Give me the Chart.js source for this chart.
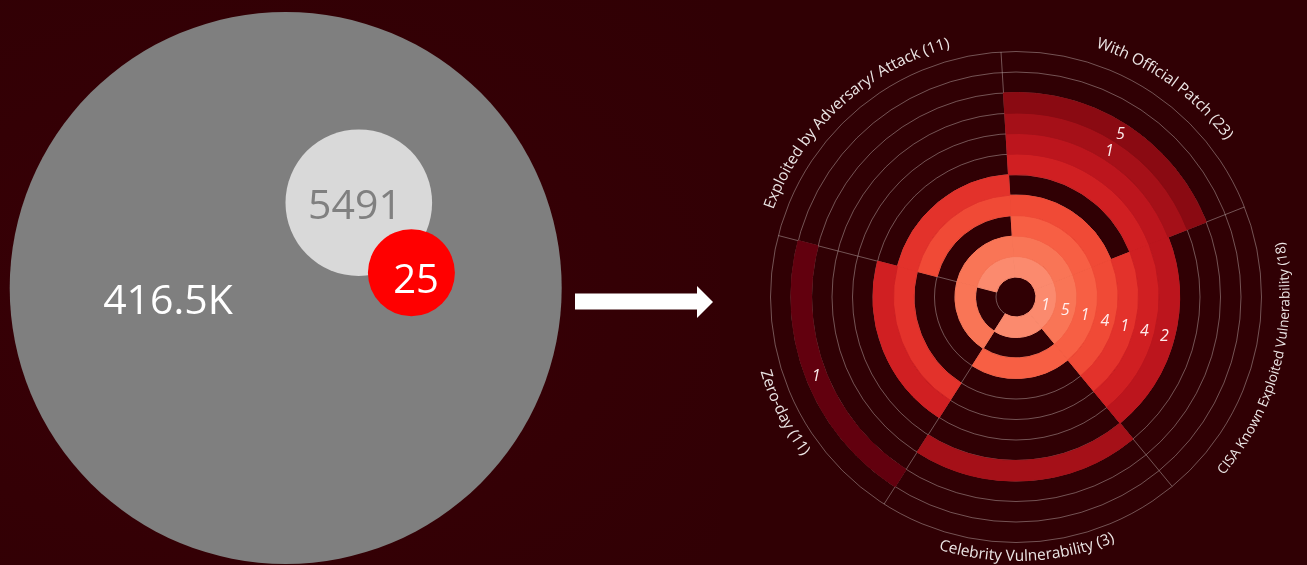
<!DOCTYPE html>
<html>
<head>
<meta charset="utf-8">
<script src="https://cdn.jsdelivr.net/npm/chart.js@4.4.1/dist/chart.umd.min.js"></script>
<style>
  html, body { margin: 0; padding: 0; width: 1307px; height: 565px; overflow: hidden; background: #300004; }
  #bgLeft { position: absolute; left: 0; top: 0; width: 720px; height: 565px;
            background: radial-gradient(ellipse at 35% 55%, #3a0007 0%, #340005 55%, #300004 100%); }
  #left { position: absolute; left: 0; top: 0; }
  #arrow { position: absolute; left: 0; top: 0; }
  #radial { position: absolute; left: 716px; top: 0; }
</style>
</head>
<body>
<div id="bgLeft"></div>
<canvas id="left" width="600" height="565"></canvas>
<svg id="arrow" width="760" height="565">
  <polygon points="575,293.5 697,293.5 697,286 713,302 697,318 697,309.5 575,309.5" fill="#ffffff"/>
</svg>
<canvas id="radial" width="600" height="594"></canvas>
<script>
// ---------------- DATA ----------------
// Left: nested counts
const countLabels = ['416.5K', '5491', '25'];
const countValues = [416500, 5491, 25];

// Right: radial chart, 5 categories, 11 rings (inner -> outer)
const categories = [
  'With Official Patch',
  'CISA Known Exploited Vulnerability',
  'Celebrity Vulnerability',
  'Zero-day',
  'Exploited by Adversary/ Attack'
];
const rings = ['1', '2', '3', '4', '5', '6', '7', '8', '9', '10', '11'];
const withOfficialPatch      = [4, 3, 3, 3, 0, 2, 2, 1, 5, 0, 0];
const cisaKnownExploited     = [1, 5, 1, 4, 1, 4, 2, 0, 0, 0, 0];
const celebrityVulnerability = [1, 0, 1, 0, 0, 0, 0, 1, 0, 0, 0];
const zeroDay                = [0, 4, 0, 0, 3, 3, 0, 0, 0, 1, 0];
const exploitedByAdversary   = [3, 3, 0, 3, 2, 0, 0, 0, 0, 0, 0];
// rings (1-based) whose value label is printed, per category
const patchLabelRings     = [8, 9];
const cisaLabelRings      = [1, 2, 3, 4, 5, 6, 7];
const celebrityLabelRings = [];
const zeroDayLabelRings   = [10];
const exploitedLabelRings = [];

// ---------------- STYLE ----------------
const seriesByCategory = [withOfficialPatch, cisaKnownExploited, celebrityVulnerability, zeroDay, exploitedByAdversary];
const labelRingsByCategory = [patchLabelRings, cisaLabelRings, celebrityLabelRings, zeroDayLabelRings, exploitedLabelRings];
const ringColors = ['#fb8a6e', '#f97556', '#f75f44', '#f04a36', '#e3322b', '#d01f22',
                    '#bc151d', '#a51018', '#8a0a12', '#62000e', '#4a000a'];
const gridColor = 'rgba(200,185,185,0.45)';
const FONT = '"Open Sans", "Noto Sans", sans-serif';
// category-label placement tweaks (px beyond outer ring, degrees of shift)
const catLabelGap   = [16.5, 28, 18.5, 20.5, 12.5];
const catLabelShift = [3, 0, 1, -5, -3];
const catLabelSize = 15.5, catLabelMaxWidth = 250;

// Left layout (pixel units on a 600 x 565 canvas)
const bubbleLayout = [
  { x: 285.7, y: 288.0, r: 276.0, fill: '#7f7f7f', ink: '#ffffff', size: 41, dx: -117.7, dy: 26.1 },
  { x: 358.8, y: 202.7, r: 73.3,  fill: '#d9d9d9', ink: '#808080', size: 41, dx: -3.8,   dy: 16.5 },
  { x: 411.4, y: 272.8, r: 43.5,  fill: '#ff0000', ink: '#ffffff', size: 40, dx: 4.6,    dy: 19.7 }
];

// ---------------- LEFT CHART ----------------
const bubbleText = {
  id: 'bubbleText',
  afterDatasetsDraw(chart) {
    const ctx = chart.ctx;
    const meta = chart.getDatasetMeta(0);
    ctx.save();
    ctx.textAlign = 'center';
    ctx.textBaseline = 'alphabetic';
    meta.data.forEach((pt, i) => {
      const L = bubbleLayout[i];
      ctx.fillStyle = L.ink;
      ctx.font = L.size + 'px ' + FONT;
      ctx.fillText(countLabels[i], pt.x + L.dx, pt.y + L.dy);
    });
    ctx.restore();
  }
};

new Chart(document.getElementById('left'), {
  type: 'bubble',
  data: {
    labels: countLabels,
    datasets: [{
      data: countValues.map((v, i) => ({ x: bubbleLayout[i].x, y: bubbleLayout[i].y, r: bubbleLayout[i].r, v })),
      backgroundColor: bubbleLayout.map(b => b.fill),
      borderWidth: 0,
      hoverRadius: 0
    }]
  },
  options: {
    responsive: false, animation: false, events: [],
    layout: { padding: 0, autoPadding: false },
    clip: false,
    scales: {
      x: { type: 'linear', min: 0, max: 600, display: false },
      y: { type: 'linear', min: 0, max: 565, reverse: true, display: false }
    },
    plugins: { legend: { display: false }, tooltip: { enabled: false } }
  },
  plugins: [bubbleText]
});

// ---------------- RADIAL CHART ----------------
const nR = rings.length;
// Chart.js draws dataset 0 outermost -> build from the outer ring inward
const datasets = [];
for (let k = nR - 1; k >= 0; k--) {
  const vals = seriesByCategory.map(s => s[k]);
  const cols = vals.map(v => v > 0 ? ringColors[k] : 'rgba(0,0,0,0)');
  datasets.push({
    label: 'Ring ' + rings[k],
    data: categories.map(() => 1),
    values: vals,
    ringIndex: k,
    backgroundColor: cols,
    borderColor: cols,
    borderWidth: 1,
    hoverOffset: 0
  });
}

const ringGrid = {
  id: 'ringGrid',
  beforeDatasetsDraw(chart) {
    const ctx = chart.ctx;
    const metas = chart.data.datasets.map((d, i) => chart.getDatasetMeta(i));
    const a0 = metas[0].data[0];
    const cx = a0.x, cy = a0.y;
    const radii = new Map();
    metas.forEach(m => {
      const e = m.data[0];
      radii.set(e.outerRadius.toFixed(2), e.outerRadius);
      radii.set(e.innerRadius.toFixed(2), e.innerRadius);
    });
    const rs = [...radii.values()];
    const rMax = Math.max(...rs), rMin = Math.min(...rs);
    ctx.save();
    ctx.strokeStyle = gridColor;
    ctx.lineWidth = 1;
    rs.forEach(r => { ctx.beginPath(); ctx.arc(cx, cy, r, 0, Math.PI * 2); ctx.stroke(); });
    metas[0].data.forEach(arc => {
      const a = arc.startAngle;
      ctx.beginPath();
      ctx.moveTo(cx + rMin * Math.cos(a), cy + rMin * Math.sin(a));
      ctx.lineTo(cx + rMax * Math.cos(a), cy + rMax * Math.sin(a));
      ctx.stroke();
    });
    ctx.restore();
  }
};

const valueLabels = {
  id: 'valueLabels',
  afterDatasetsDraw(chart) {
    const ctx = chart.ctx;
    ctx.save();
    ctx.fillStyle = 'rgba(255,242,242,0.97)';
    ctx.font = 'italic 16px ' + FONT;
    ctx.textAlign = 'center';
    ctx.textBaseline = 'middle';
    labelRingsByCategory.forEach((ringList, c) => {
      ringList.forEach(ring => {
        const k = ring - 1;
        const di = nR - 1 - k;
        const arc = chart.getDatasetMeta(di).data[c];
        const p = arc.getCenterPoint();
        ctx.fillText(String(seriesByCategory[c][k]), p.x, p.y + 1);
      });
    });
    ctx.restore();
  }
};

function arcText(ctx, text, cx, cy, r, mid, clockwise) {
  const total = ctx.measureText(text).width;
  let acc = 0;
  for (const ch of text) {
    const w = ctx.measureText(ch).width;
    const off = (acc + w / 2) / r;
    const a = clockwise ? mid - total / (2 * r) + off : mid + total / (2 * r) - off;
    ctx.save();
    ctx.translate(cx + r * Math.cos(a), cy + r * Math.sin(a));
    ctx.rotate(clockwise ? a + Math.PI / 2 : a - Math.PI / 2);
    ctx.fillText(ch, 0, 0);
    ctx.restore();
    acc += w;
  }
}

const categoryLabels = {
  id: 'categoryLabels',
  afterDraw(chart) {
    const ctx = chart.ctx;
    const meta = chart.getDatasetMeta(0);
    ctx.save();
    ctx.fillStyle = 'rgba(242,236,236,0.97)';
    ctx.textAlign = 'center';
    ctx.textBaseline = 'alphabetic';
    meta.data.forEach((arc, c) => {
      const mid = (arc.startAngle + arc.endAngle) / 2 + catLabelShift[c] * Math.PI / 180;
      let deg = ((mid + Math.PI / 2) * 180 / Math.PI) % 360;
      if (deg < 0) deg += 360;
      const top = !(deg > 90 && deg < 270);
      const total = seriesByCategory[c].reduce((s, v) => s + v, 0);
      const text = categories[c] + ' (' + total + ')';
      ctx.font = catLabelSize + 'px ' + FONT;
      const w = ctx.measureText(text).width;
      const size = w > catLabelMaxWidth ? catLabelSize * catLabelMaxWidth / w : catLabelSize;
      ctx.font = size.toFixed(2) + 'px ' + FONT;
      arcText(ctx, text, arc.x, arc.y, arc.outerRadius + catLabelGap[c], mid, top);
    });
    ctx.restore();
  }
};

new Chart(document.getElementById('radial'), {
  type: 'doughnut',
  data: { labels: categories, datasets },
  options: {
    responsive: false, animation: false, events: [],
    rotation: -3.5,
    radius: 245.5,
    cutout: (20 / 245.5 * 100) + '%',
    layout: { padding: 0 },
    plugins: { legend: { display: false }, tooltip: { enabled: false } }
  },
  plugins: [ringGrid, valueLabels, categoryLabels]
});
</script>
</body>
</html>
